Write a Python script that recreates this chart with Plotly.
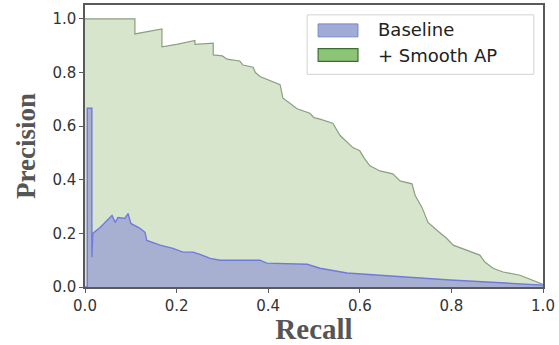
import plotly.graph_objects as go

# Green: + Smooth AP precision-recall curve
smooth_recall = [0.0, 0.109, 0.109, 0.168, 0.168, 0.20, 0.24, 0.24, 0.28, 0.28, 0.30, 0.31,
                 0.338, 0.345, 0.367, 0.372, 0.382, 0.40, 0.426, 0.432, 0.45, 0.463, 0.491,
                 0.50, 0.513, 0.541, 0.557, 0.57, 0.585, 0.60, 0.61, 0.622, 0.644, 0.672,
                 0.688, 0.714, 0.721, 0.736, 0.749, 0.769, 0.79, 0.804, 0.834, 0.862, 0.873,
                 0.891, 0.913, 0.95, 1.0]
smooth_precision = [1.0, 1.0, 0.944, 0.963, 0.896, 0.905, 0.92, 0.905, 0.91, 0.866, 0.862, 0.85,
                    0.843, 0.828, 0.82, 0.80, 0.785, 0.772, 0.755, 0.705, 0.68, 0.665, 0.648,
                    0.632, 0.626, 0.611, 0.565, 0.545, 0.52, 0.508, 0.48, 0.452, 0.433, 0.422,
                    0.396, 0.385, 0.341, 0.296, 0.241, 0.211, 0.181, 0.156, 0.137, 0.119, 0.093,
                    0.07, 0.056, 0.044, 0.01]

# Blue: Baseline precision-recall curve
base_recall = [0.0, 0.005, 0.005, 0.015, 0.015, 0.017, 0.033, 0.048, 0.059, 0.066, 0.072, 0.087,
               0.094, 0.10, 0.12, 0.131, 0.135, 0.164, 0.192, 0.214, 0.236, 0.251, 0.273, 0.295,
               0.382, 0.397, 0.485, 0.513, 0.572, 0.644, 0.797, 1.0]
base_precision = [0.0, 0.0, 0.667, 0.667, 0.111, 0.20, 0.222, 0.248, 0.267, 0.241, 0.259, 0.256,
                  0.274, 0.237, 0.219, 0.204, 0.174, 0.156, 0.144, 0.13, 0.13, 0.122, 0.107, 0.10,
                  0.10, 0.089, 0.085, 0.07, 0.052, 0.044, 0.026, 0.007]

legend_labels = ["Baseline", "+ Smooth AP"]
x_ticks = [0.0, 0.2, 0.4, 0.6, 0.8, 1.0]
y_ticks = [0.0, 0.2, 0.4, 0.6, 0.8, 1.0]

green_fill = "rgb(214,229,203)"
green_line = "rgb(138,160,128)"
blue_fill = "rgb(168,176,210)"
blue_line = "rgb(112,122,222)"

fig = go.Figure()
fig.add_trace(go.Scatter(x=smooth_recall, y=smooth_precision, mode="lines", fill="tozeroy",
                         fillcolor=green_fill, line=dict(color=green_line, width=1.2),
                         showlegend=False))
fig.add_trace(go.Scatter(x=base_recall, y=base_precision, mode="lines", fill="tozeroy",
                         fillcolor=blue_fill, line=dict(color=blue_line, width=1.4),
                         showlegend=False))

# manual legend
shapes = [
    dict(type="rect", xref="paper", yref="paper", x0=0.485, x1=0.98, y0=0.754, y1=0.965,
         fillcolor="white", line=dict(color="rgb(210,210,210)", width=1)),
    dict(type="rect", xref="paper", yref="paper", x0=0.509, x1=0.596, y0=0.887, y1=0.933,
         fillcolor="rgb(160,172,214)", line=dict(color="rgb(120,134,200)", width=1)),
    dict(type="rect", xref="paper", yref="paper", x0=0.509, x1=0.596, y0=0.800, y1=0.845,
         fillcolor="rgb(140,196,120)", line=dict(color="rgb(60,110,50)", width=1.2)),
]
annotations = [
    dict(xref="paper", yref="paper", x=0.635, y=0.912, text=legend_labels[0], showarrow=False,
         xanchor="left", yanchor="middle", font=dict(family="DejaVu Sans", size=18, color="#222")),
    dict(xref="paper", yref="paper", x=0.635, y=0.822, text=legend_labels[1], showarrow=False,
         xanchor="left", yanchor="middle", font=dict(family="DejaVu Sans", size=18, color="#222")),
]

fig.update_layout(
    width=559, height=345,
    margin=dict(l=85, r=16, t=3, b=58),
    paper_bgcolor="white", plot_bgcolor="white",
    shapes=shapes, annotations=annotations,
)
fig.update_xaxes(range=[0, 1], tickvals=x_ticks, ticktext=[f"{v:.1f}" for v in x_ticks],
                 showgrid=False, zeroline=False, showline=True, mirror=True,
                 linecolor="rgb(90,90,90)", linewidth=1.5, ticks="outside", ticklen=4,
                 tickcolor="rgb(90,90,90)",
                 tickfont=dict(family="DejaVu Sans", size=15, color="#333"),
                 title=dict(text="<b>Recall</b>", standoff=4,
                            font=dict(family="Liberation Serif", size=29, color="#555")))
fig.update_yaxes(range=[0, 1.052], tickvals=y_ticks, ticktext=[f"{v:.1f}" for v in y_ticks],
                 showgrid=False, zeroline=False, showline=True, mirror=True,
                 linecolor="rgb(90,90,90)", linewidth=1.5, ticks="outside", ticklen=4,
                 tickcolor="rgb(90,90,90)",
                 tickfont=dict(family="DejaVu Sans", size=15, color="#333"),
                 title=dict(text="<b>Precision</b>", standoff=9,
                            font=dict(family="Liberation Serif", size=27, color="#555")))

fig.write_html("out.html")
